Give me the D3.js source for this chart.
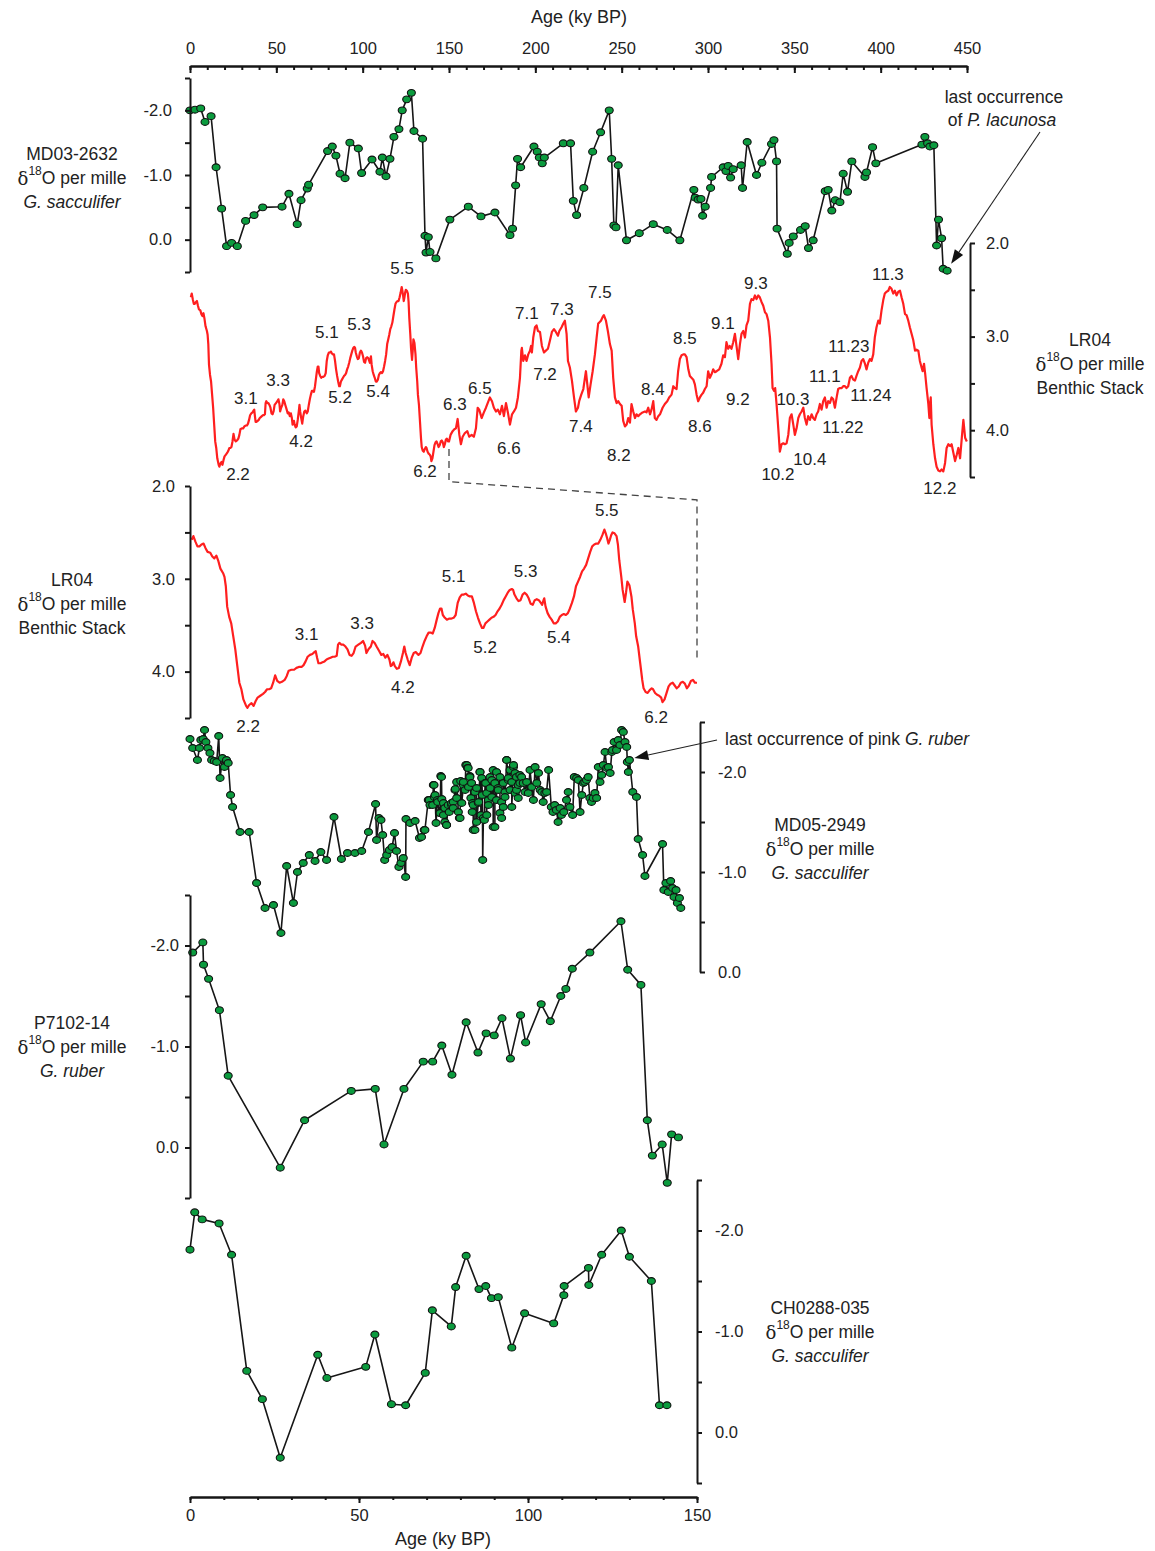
<!DOCTYPE html>
<html>
<head>
<meta charset="utf-8">
<script src="https://cdn.jsdelivr.net/npm/d3@7"></script>
<style>
  body { margin: 0; background: #fff; }
  svg { display: block; }
</style>
</head>
<body>
<script>
// ---------------------------------------------------------------
// Oxygen-isotope records vs. age (ky BP)
// ---------------------------------------------------------------

// MD03-2632, G. sacculifer δ18O  [age ky, per mille]
const md03 = [
  [0.0,-2.00],[2.9,-2.01],[6.2,-2.03],[8.7,-1.82],[12.2,-1.91],[15.1,-1.12],[18.3,-0.48],[21.2,0.10],
  [24.1,0.05],[27.4,0.10],[32.2,-0.29],[37.1,-0.38],[42.1,-0.50],[53.3,-0.51],[57.3,-0.71],[62.1,-0.24],
  [64.3,-0.61],[67.9,-0.79],[68.7,-0.85],[79.7,-1.37],[82.4,-1.44],[84.5,-1.30],[86.9,-1.02],[89.8,-0.95],
  [92.6,-1.50],[97.5,-1.41],[99.4,-1.03],[105.4,-1.24],[110.0,-1.05],[111.4,-1.27],[113.5,-0.98],[115.8,-1.25],
  [118.1,-1.59],[121.0,-1.71],[122.9,-2.00],[125.5,-2.17],[128.2,-2.27],[129.7,-1.68],[134.7,-1.56],[136.1,-0.06],
  [136.7,0.20],[138.0,-0.04],[139.0,0.19],[142.4,0.29],[150.5,-0.31],[161.2,-0.51],[168.5,-0.36],[176.6,-0.42],
  [185.3,-0.07],[186.8,-0.17],[188.6,-0.84],[189.7,-1.25],[191.5,-1.12],[199.2,-1.44],[201.1,-1.36],[202.3,-1.27],
  [204.0,-1.18],[205.2,-1.27],[216.2,-1.49],[220.4,-1.49],[222.0,-0.60],[223.9,-0.38],[228.1,-0.80],[233.2,-1.36],
  [237.8,-1.66],[242.8,-2.00],[244.2,-1.25],[245.5,-0.22],[246.7,-0.19],[248.0,-1.15],[252.8,0.01],[260.2,-0.10],
  [268.3,-0.24],[276.4,-0.15],[283.7,0.01],[291.8,-0.77],[292.6,-0.65],[294.3,-0.62],[295.9,-0.63],[296.9,-0.37],
  [298.4,-0.51],[301.5,-0.80],[302.1,-0.97],[308.8,-1.12],[310.4,-1.06],[311.7,-1.14],[313.1,-0.96],[314.6,-1.09],
  [319.2,-1.15],[320.0,-0.80],[322.7,-1.51],[328.1,-1.00],[331.2,-1.19],[336.8,-1.48],[338.2,-1.54],[339.7,-1.21],
  [340.0,-0.17],[345.9,0.22],[347.0,0.05],[349.4,-0.05],[353.6,-0.15],[356.3,-0.21],[358.2,0.13],[360.9,0.01],
  [367.9,-0.75],[369.6,-0.77],[371.7,-0.45],[373.7,-0.61],[376.4,-0.58],[378.3,-1.02],[380.8,-0.74],[383.3,-1.21],
  [390.9,-0.97],[391.8,-1.04],[395.3,-1.43],[397.2,-1.18],[423.9,-1.47],[425.6,-1.59],[427.2,-1.49],[428.5,-1.44],
  [430.8,-1.46],[432.4,0.09],[433.5,-0.31],[435.3,-0.02],[436.2,0.45],[438.5,0.48]
];

// LR04 benthic stack δ18O, 0-150 ky
const lr04Recent = [
  [0.5,2.58],[1.0,2.54],[1.6,2.60],[2.2,2.65],[2.8,2.65],[3.4,2.63],[4.0,2.62],[4.6,2.67],[5.2,2.71],[6.0,2.72],
  [6.6,2.76],[7.2,2.78],[7.8,2.75],[8.4,2.81],[9.0,2.89],[9.8,2.94],[10.2,2.98],[10.6,3.08],[11.0,3.30],[11.6,3.41],
  [12.2,3.48],[12.8,3.62],[13.4,3.76],[14.0,3.94],[14.6,4.12],[15.2,4.19],[15.8,4.30],[16.6,4.37],[17.0,4.39],[17.5,4.36],
  [18.2,4.34],[18.8,4.37],[19.4,4.32],[20.0,4.28],[20.8,4.26],[21.6,4.24],[22.2,4.22],[22.8,4.19],[23.4,4.19],[24.0,4.18],
  [24.6,4.12],[25.2,4.04],[25.8,4.10],[26.5,4.12],[27.2,4.11],[28.0,4.09],[28.6,4.05],[29.2,3.99],[30.0,3.98],[30.8,3.98],
  [31.5,3.96],[32.2,3.95],[33.0,3.95],[33.6,3.93],[34.2,3.89],[34.8,3.84],[35.5,3.82],[36.2,3.81],[36.8,3.79],[37.2,3.78],
  [37.6,3.85],[38.0,3.91],[38.6,3.91],[39.2,3.90],[39.8,3.89],[40.4,3.87],[41.0,3.86],[41.6,3.85],[42.2,3.84],[42.8,3.84],
  [43.4,3.83],[43.8,3.71],[44.2,3.69],[44.8,3.71],[45.4,3.71],[46.0,3.73],[46.6,3.76],[47.2,3.82],[47.8,3.83],[48.4,3.80],
  [49.0,3.73],[49.8,3.71],[50.6,3.69],[51.2,3.67],[51.8,3.72],[52.2,3.80],[52.8,3.76],[53.5,3.73],[54.0,3.67],[54.6,3.69],
  [55.2,3.73],[56.0,3.78],[56.6,3.82],[57.2,3.81],[57.8,3.85],[58.4,3.82],[59.0,3.87],[59.4,3.94],[59.8,3.93],[60.2,3.90],
  [60.6,3.94],[61.2,3.97],[61.8,3.96],[62.4,3.89],[63.0,3.80],[63.4,3.73],[63.8,3.80],[64.4,3.87],[65.0,3.93],[65.6,3.85],
  [66.2,3.80],[66.8,3.79],[67.6,3.82],[68.2,3.80],[68.8,3.73],[69.4,3.67],[70.0,3.62],[70.6,3.58],[71.2,3.58],[71.8,3.59],
  [72.4,3.53],[73.0,3.44],[73.5,3.37],[74.0,3.32],[74.4,3.32],[74.8,3.39],[75.4,3.42],[76.0,3.44],[76.6,3.43],[77.2,3.43],
  [78.0,3.42],[78.6,3.39],[79.2,3.26],[79.8,3.20],[80.4,3.17],[81.0,3.17],[81.6,3.16],[82.2,3.18],[82.8,3.19],[83.4,3.19],
  [84.0,3.26],[84.6,3.35],[85.2,3.42],[85.8,3.48],[86.4,3.53],[86.8,3.53],[87.4,3.48],[88.0,3.46],[88.6,3.44],[89.2,3.42],
  [89.8,3.41],[90.4,3.39],[91.0,3.35],[91.6,3.32],[92.2,3.28],[92.8,3.23],[93.4,3.19],[94.0,3.15],[94.6,3.12],[95.2,3.11],
  [95.6,3.12],[96.0,3.17],[96.6,3.21],[97.2,3.24],[97.8,3.23],[98.4,3.17],[99.0,3.15],[99.6,3.17],[100.2,3.21],[100.8,3.27],
  [101.4,3.28],[102.0,3.23],[102.6,3.22],[103.2,3.23],[103.8,3.26],[104.2,3.28],[104.6,3.23],[104.8,3.21],[105.2,3.30],[105.8,3.37],
  [106.4,3.41],[107.0,3.44],[107.6,3.48],[108.2,3.48],[108.8,3.46],[109.4,3.41],[110.0,3.39],[110.6,3.38],[111.2,3.39],[111.8,3.37],
  [112.4,3.32],[113.0,3.26],[113.6,3.19],[114.2,3.08],[114.8,3.03],[115.4,2.98],[116.0,2.92],[116.6,2.89],[117.2,2.85],[117.8,2.78],
  [118.4,2.71],[119.0,2.65],[119.6,2.63],[120.2,2.62],[120.8,2.62],[121.4,2.58],[122.0,2.53],[122.6,2.47],[123.0,2.51],[123.4,2.56],
  [123.8,2.62],[124.2,2.58],[124.6,2.53],[125.0,2.50],[125.6,2.51],[126.2,2.54],[126.6,2.63],[127.0,2.80],[127.6,2.98],[128.0,3.12],
  [128.6,3.25],[129.0,3.15],[129.4,3.03],[130.0,3.07],[130.6,3.19],[131.0,3.33],[131.6,3.48],[132.0,3.62],[132.6,3.73],[133.2,3.91],
  [133.8,4.09],[134.2,4.18],[134.8,4.22],[135.4,4.23],[136.0,4.20],[136.6,4.18],[137.0,4.19],[137.6,4.23],[138.2,4.25],[138.8,4.26],
  [139.4,4.28],[139.8,4.33],[140.4,4.30],[141.0,4.23],[141.6,4.16],[142.2,4.13],[142.8,4.12],[143.4,4.15],[144.0,4.18],[144.6,4.16],
  [145.2,4.12],[145.8,4.11],[146.4,4.13],[147.0,4.18],[147.6,4.15],[148.2,4.10],[148.8,4.09],[149.4,4.12],[150.0,4.12]
];

// LR04 benthic stack δ18O, 150-450 ky
const lr04Older = [
  [150.9,4.05],[152.1,4.01],[153.1,3.99],[154.0,3.98],[155.0,3.88],[156.0,4.05],[156.9,4.15],[157.9,4.07],[159.2,4.03],[160.6,4.01],
  [161.7,4.07],[163.1,4.05],[164.4,4.07],[165.6,3.98],[166.6,3.76],[167.5,3.78],[168.9,3.87],[170.2,3.81],[171.4,3.76],[172.4,3.71],
  [173.7,3.65],[174.9,3.69],[176.0,3.76],[177.2,3.80],[178.3,3.78],[179.5,3.83],[180.7,3.74],[181.8,3.85],[183.0,3.71],[184.1,3.81],
  [185.3,3.94],[186.5,3.83],[187.6,3.80],[188.8,3.76],[189.9,3.65],[191.1,3.44],[191.9,3.15],[192.2,3.12],[193.0,3.26],[194.0,3.20],
  [194.9,3.26],[195.9,3.19],[196.9,3.15],[197.5,3.10],[198.0,3.17],[198.8,3.01],[199.8,2.90],[200.7,2.88],[201.5,2.94],[202.7,2.95],
  [203.8,3.10],[205.0,3.17],[206.1,3.15],[207.3,3.13],[208.5,3.04],[209.6,2.95],[210.8,2.92],[211.9,2.95],[213.1,2.99],[213.9,2.94],
  [215.2,2.90],[216.2,2.86],[217.1,2.83],[218.1,2.97],[218.9,3.26],[220.0,3.33],[221.2,3.47],[222.4,3.65],[223.5,3.80],[224.7,3.76],
  [225.4,3.69],[226.6,3.62],[227.8,3.56],[228.5,3.47],[229.3,3.37],[230.1,3.51],[230.9,3.65],[232.0,3.51],[233.2,3.37],[234.5,3.19],
  [235.5,3.01],[236.4,2.86],[237.0,2.85],[238.0,2.83],[239.0,2.79],[239.7,2.77],[240.9,2.83],[242.0,2.94],[243.2,3.08],[244.2,3.15],
  [245.1,3.44],[246.1,3.65],[247.1,3.71],[248.0,3.69],[249.0,3.72],[250.0,3.74],[250.9,3.90],[251.9,3.96],[252.9,3.94],[253.8,3.87],
  [254.8,3.92],[255.7,3.72],[256.7,3.80],[257.7,3.87],[258.6,3.83],[259.6,3.85],[260.6,3.83],[262.1,3.81],[263.5,3.80],[264.4,3.81],
  [265.4,3.76],[266.4,3.83],[267.3,3.78],[268.3,3.69],[269.2,3.87],[270.2,3.89],[271.2,3.85],[272.2,3.83],[273.7,3.76],[275.0,3.72],
  [276.4,3.69],[277.5,3.65],[278.9,3.62],[279.9,3.53],[280.8,3.55],[281.8,3.56],[282.7,3.37],[283.7,3.24],[284.7,3.20],[285.7,3.19],
  [286.6,3.19],[287.6,3.22],[288.6,3.35],[289.5,3.42],[291.5,3.46],[292.4,3.51],[293.4,3.62],[294.3,3.69],[295.3,3.65],[296.3,3.62],
  [297.2,3.60],[298.2,3.56],[299.2,3.53],[300.1,3.37],[301.1,3.44],[302.1,3.40],[303.0,3.35],[304.0,3.38],[305.0,3.37],[306.5,3.35],
  [307.8,3.29],[308.8,3.20],[309.8,3.22],[310.7,3.06],[311.7,3.13],[312.6,3.10],[313.6,3.13],[314.6,3.06],[315.6,2.97],[316.5,3.10],
  [317.5,3.24],[318.5,3.08],[319.4,2.97],[320.4,2.94],[321.4,3.01],[322.3,2.88],[323.3,2.83],[324.3,2.65],[325.2,2.60],[326.2,2.61],
  [327.2,2.56],[328.1,2.60],[329.1,2.56],[330.0,2.58],[331.0,2.63],[332.0,2.67],[333.0,2.74],[333.9,2.76],[334.9,2.83],[335.9,3.01],
  [336.8,3.29],[337.4,3.55],[338.2,3.58],[338.9,3.55],[339.7,3.72],[340.7,3.98],[341.6,4.23],[342.6,4.15],[343.6,4.14],[344.5,4.15],
  [345.5,4.14],[346.5,4.05],[347.4,3.87],[348.4,3.83],[349.4,3.94],[350.3,4.05],[351.3,3.98],[352.3,3.87],[353.2,3.83],[354.2,3.80],
  [355.2,3.76],[356.1,3.87],[357.1,3.94],[358.0,3.85],[359.0,3.89],[360.0,3.83],[360.9,3.87],[361.9,3.89],[362.9,3.83],[363.8,3.80],
  [364.8,3.72],[365.8,3.78],[366.7,3.69],[367.7,3.65],[368.7,3.76],[369.6,3.69],[370.6,3.71],[371.6,3.65],[372.5,3.67],[373.5,3.76],
  [374.5,3.65],[375.4,3.56],[376.4,3.55],[377.4,3.55],[378.3,3.53],[379.3,3.53],[380.2,3.55],[381.2,3.53],[382.2,3.44],[383.1,3.42],
  [384.1,3.46],[385.1,3.47],[386.0,3.42],[387.0,3.37],[388.0,3.33],[388.9,3.26],[389.9,3.24],[390.9,3.29],[391.8,3.35],[392.8,3.28],
  [393.8,3.24],[394.7,3.26],[395.7,3.19],[396.6,3.01],[397.6,2.90],[398.6,2.83],[399.5,2.86],[400.5,2.72],[401.5,2.61],[402.4,2.54],
  [403.4,2.52],[404.4,2.51],[405.3,2.47],[406.3,2.49],[407.3,2.54],[408.2,2.51],[409.2,2.56],[410.2,2.52],[411.2,2.51],[412.1,2.58],
  [413.1,2.65],[414.1,2.76],[415.0,2.77],[416.0,2.83],[416.9,2.90],[417.9,2.97],[418.9,3.04],[419.9,3.15],[420.8,3.14],[421.8,3.15],
  [422.7,3.26],[423.7,3.33],[424.3,3.37],[425.1,3.29],[425.8,3.40],[426.6,3.55],[427.6,3.72],[428.2,3.87],[428.6,3.72],[429.0,3.65],
  [429.5,3.94],[430.5,4.15],[431.5,4.30],[432.4,4.39],[433.4,4.43],[434.4,4.44],[435.3,4.42],[436.3,4.44],[437.3,4.35],[438.2,4.19],
  [439.2,4.15],[440.2,4.17],[441.1,4.15],[442.1,4.24],[443.1,4.33],[444.1,4.26],[445.0,4.19],[446.0,4.30],[447.0,4.08],[447.9,3.89],
  [448.9,4.08],[449.9,4.12]
];

// MD05-2949, G. sacculifer δ18O
const md05 = [
  [0.0,-2.33],[0.8,-2.24],[2.2,-2.12],[2.8,-2.24],[3.2,-2.32],[3.9,-2.33],[4.3,-2.42],[4.7,-2.30],[5.3,-2.24],[5.9,-2.19],
  [6.4,-2.12],[7.2,-2.11],[7.9,-2.10],[8.5,-2.36],[8.9,-1.94],[9.6,-2.14],[10.2,-2.05],[10.8,-2.12],[11.3,-2.09],[12.0,-1.77],
  [12.6,-1.65],[14.8,-1.40],[17.5,-1.40],[19.7,-0.89],[22.2,-0.64],[24.7,-0.67],[26.9,-0.39],[28.6,-1.06],[30.6,-0.69],[31.8,-1.00],
  [33.5,-1.09],[35.3,-1.17],[37.0,-1.11],[38.7,-1.20],[40.4,-1.12],[42.6,-1.55],[44.8,-1.13],[46.6,-1.19],[48.8,-1.19],[50.8,-1.21],
  [52.8,-1.40],[54.9,-1.68],[55.2,-1.32],[55.9,-1.54],[56.5,-1.52],[57.0,-1.37],[57.6,-1.12],[58.2,-1.17],[59.0,-1.22],[59.8,-1.25],
  [60.5,-1.39],[61.1,-1.21],[61.8,-1.05],[62.4,-1.09],[63.1,-1.14],[63.8,-0.95],[63.9,-1.53],[65.1,-1.49],[66.6,-1.51],[67.9,-1.34],
  // dense interval, 68-98 ky
  [68.5,-1.35],[69.3,-1.42],[69.5,-1.42],[70.5,-1.72],[70.8,-1.72],[71.0,-1.67],[71.8,-1.67],[72.0,-1.87],[72.2,-1.87],[72.3,-1.75],
  [72.5,-1.77],[72.8,-1.49],[73.2,-1.72],[73.3,-1.70],[73.8,-1.59],[74.0,-1.59],[74.2,-1.96],[74.4,-1.95],[74.5,-1.73],[75.0,-1.57],
  [75.0,-1.69],[75.4,-1.50],[75.4,-1.64],[75.9,-1.47],[75.9,-1.47],[76.4,-1.67],[76.7,-1.60],[77.4,-1.67],[77.4,-1.69],[77.9,-1.70],
  [77.9,-1.64],[78.4,-1.82],[78.5,-1.83],[78.9,-1.74],[78.9,-1.90],[79.4,-1.60],[79.7,-1.54],[79.9,-1.54],[80.1,-1.91],[80.4,-1.69],
  [80.9,-1.87],[80.9,-1.90],[81.4,-1.82],[81.6,-2.07],[81.9,-2.07],[82.1,-2.04],[82.3,-2.04],[82.4,-1.85],[82.8,-1.96],[82.8,-1.95],
  [83.1,-1.74],[83.3,-1.89],[83.5,-1.60],[83.6,-1.69],[83.8,-1.67],[83.8,-1.42],[84.3,-1.42],[84.3,-1.80],[84.8,-1.84],[84.8,-1.50],
  [85.3,-1.69],[85.4,-1.70],[85.8,-2.00],[85.8,-2.00],[86.1,-1.57],[86.3,-1.94],[86.5,-1.77],[86.6,-1.12],[86.8,-1.54],[87.1,-1.52],
  [87.3,-1.89],[87.5,-1.89],[87.8,-1.57],[87.8,-1.79],[88.3,-1.72],[88.3,-1.67],[88.8,-1.84],[88.8,-1.95],[89.3,-1.92],[89.3,-1.75],
  [89.7,-2.02],[89.7,-1.45],[90.2,-1.45],[90.2,-1.89],[90.7,-1.72],[90.7,-2.00],[91.2,-1.84],[91.2,-1.82],[91.7,-1.95],[91.7,-1.59],
  [92.2,-1.70],[92.2,-1.54],[92.7,-1.65],[92.7,-1.89],[93.2,-1.80],[93.2,-1.75],[93.7,-2.12],[93.7,-2.12],[94.2,-1.92],[94.2,-1.94],
  [94.7,-2.02],[94.7,-1.82],[95.2,-1.90],[95.2,-1.65],[95.7,-2.05],[95.7,-2.07],[96.2,-1.79],[96.2,-1.99],[96.6,-1.95],[96.6,-1.82],
  [97.1,-1.87],[97.1,-1.74],[97.6,-1.97],[97.6,-1.89],
  // 98-125 ky
  [98.1,-1.95],[98.6,-1.89],[99.1,-1.80],[99.6,-1.90],[100.1,-1.79],[100.6,-2.02],[101.1,-1.85],[101.6,-1.72],[102.1,-2.05],[102.6,-1.89],
  [103.1,-1.99],[103.6,-1.82],[104.1,-1.80],[104.5,-1.70],[105.0,-1.79],[105.5,-1.80],[106.1,-2.02],[106.9,-1.65],[107.4,-1.60],[107.9,-1.67],
  [108.4,-1.62],[108.9,-1.50],[109.5,-1.64],[109.9,-1.57],[110.6,-1.60],[111.4,-1.72],[111.9,-1.80],[112.4,-1.65],[113.2,-1.57],[113.7,-1.95],
  [114.4,-1.94],[114.9,-1.92],[115.4,-1.60],[115.9,-1.77],[116.4,-1.89],[116.8,-1.90],[117.3,-1.92],[117.8,-1.95],[118.3,-1.74],[118.8,-1.70],
  [119.3,-1.74],[119.8,-1.79],[120.3,-1.74],[120.8,-2.05],[121.3,-1.90],[121.8,-1.97],[122.3,-2.07],[122.8,-2.20],[123.3,-2.04],[123.8,-2.05],
  [124.3,-1.99],[124.8,-2.20],
  // 125-146 ky
  [125.0,-2.22],[125.5,-2.30],[126.2,-2.22],[126.7,-2.32],[127.2,-2.27],[127.7,-2.42],[128.2,-2.40],[128.7,-2.30],[129.2,-2.25],[129.4,-2.10],
  [129.7,-2.00],[130.0,-2.12],[131.0,-1.80],[132.1,-1.75],[132.6,-1.33],[133.9,-1.17],[134.6,-0.96],[139.8,-1.28],[140.2,-0.82],[140.8,-0.89],
  [141.5,-0.80],[142.2,-0.91],[142.8,-0.84],[143.2,-0.75],[143.8,-0.82],[144.2,-0.69],[144.8,-0.74],[145.2,-0.64]
];

// P7102-14, G. ruber δ18O
const p7102 = [
  [0.8,-1.93],[3.8,-2.03],[4.0,-1.81],[5.5,-1.67],[8.7,-1.36],[11.3,-0.71],[26.7,0.20],[33.9,-0.27],[47.7,-0.56],[54.8,-0.58],
  [57.4,-0.03],[63.3,-0.58],[69.0,-0.85],[71.8,-0.85],[74.5,-1.01],[77.5,-0.72],[81.7,-1.24],[85.2,-0.94],[87.6,-1.13],[90.0,-1.11],
  [92.3,-1.28],[94.8,-0.88],[97.8,-1.31],[99.3,-1.04],[103.9,-1.42],[106.6,-1.25],[109.7,-1.50],[111.2,-1.57],[113.1,-1.77],[118.3,-1.93],
  [127.5,-2.24],[129.5,-1.76],[133.4,-1.61],[135.3,-0.27],[136.8,0.08],[139.7,-0.03],[141.2,0.35],[142.5,-0.13],[144.5,-0.10]
];

// CH0288-035, G. sacculifer δ18O
const ch0288 = [
  [0.0,-1.81],[1.4,-2.18],[3.6,-2.11],[8.6,-2.07],[12.3,-1.76],[16.8,-0.61],[21.4,-0.33],[26.7,0.25],[37.8,-0.77],[40.5,-0.54],
  [52.0,-0.65],[54.7,-0.97],[59.6,-0.28],[63.8,-0.27],[69.6,-0.59],[71.7,-1.21],[77.3,-1.05],[78.6,-1.44],[81.7,-1.75],[85.5,-1.42],
  [87.5,-1.45],[89.2,-1.33],[91.2,-1.34],[95.2,-0.84],[99.0,-1.18],[107.6,-1.08],[110.6,-1.36],[110.7,-1.45],[117.9,-1.63],[118.0,-1.46],
  [121.8,-1.76],[127.6,-2.00],[130.0,-1.74],[136.5,-1.50],[138.9,-0.27],[141.1,-0.27]
];

// Marine isotope (sub)stage labels placed at [age, δ18O]
const stagesLong = [
  ["2.2",27.8,4.47],["3.1",32.4,3.66],["3.3",51.0,3.47],["4.2",64.3,4.12],["5.1",79.3,2.96],["5.2",86.9,3.65],
  ["5.3",97.9,2.87],["5.4",108.9,3.59],["5.5",122.8,2.27],["6.2",136.1,4.44],["6.3",153.4,3.73],["6.5",167.9,3.55],
  ["6.6",184.7,4.20],["7.1",195.1,2.75],["7.2",205.6,3.40],["7.3",215.4,2.71],["7.4",226.4,3.96],["7.5",237.4,2.53],
  ["8.2",248.4,4.27],["8.4",268.1,3.57],["8.5",286.6,3.02],["8.6",295.3,3.96],["9.1",308.6,2.86],["9.2",317.3,3.67],
  ["9.3",327.7,2.43],["10.2",340.5,4.47],["10.3",349.2,3.67],["10.4",359.0,4.31],["11.1",367.7,3.43],["11.22",378.1,3.97],
  ["11.23",381.6,3.11],["11.24",394.3,3.63],["11.3",404.2,2.34],["12.2",434.3,4.62]
];
const stagesShort = [
  ["2.2",17.2,4.59],["3.1",34.5,3.60],["3.3",50.9,3.48],["4.2",63.0,4.17],["5.1",78.0,2.98],
  ["5.2",87.3,3.74],["5.3",99.3,2.92],["5.4",109.1,3.63],["5.5",123.3,2.26],["6.2",137.9,4.49]
];

// Axis ticks
const ageTicksLong = d3.range(0, 451, 50);
const ageTicksShort = d3.range(0, 151, 50);
const d18oTicks = d3.range(-2.5, 0.51, 0.5);
const d18oLabels = [-2, -1, 0];
const lrTicks = d3.range(2, 4.51, 0.5);
const lrLabels = [2, 3, 4];

// ---------------------------------------------------------------
const FONT = '"Liberation Sans", Arial, Helvetica, sans-serif';
const INK = "#161616";
const GREEN = "#0b9b3e";
const RED = "#ff1f1f";

const svg = d3.select("body").append("svg")
  .attr("width", 1155).attr("height", 1551)
  .attr("font-family", FONT);

const xLong  = d3.scaleLinear().domain([0, 450]).range([190, 967]);
const xShort = d3.scaleLinear().domain([0, 150]).range([190, 697]);
const yMD03  = d3.scaleLinear().domain([-2.5, 0.5]).range([78, 272]);
const yLRtop = d3.scaleLinear().domain([2, 4.5]).range([243, 477]);
const yLRmid = d3.scaleLinear().domain([2, 4.5]).range([486, 718]);
const yMD05  = d3.scaleLinear().domain([-2.5, 0]).range([722, 972]);
const yP71   = d3.scaleLinear().domain([-2.5, 0.5]).range([895, 1198]);
const yCH    = d3.scaleLinear().domain([-2.5, 0.5]).range([1180, 1483]);

const lr04 = lr04Recent.concat(lr04Older);

function styleAxis(g, size) {
  g.attr("font-family", FONT).attr("font-size", size || 16.5);
  g.select(".domain").attr("stroke", INK).attr("stroke-width", 2);
  g.selectAll(".tick line").attr("stroke", INK).attr("stroke-width", 2);
  g.selectAll(".tick text").attr("fill", "#222");
}

function yAxis(scale, x, side, ticks, labels, pad) {
  const ax = (side === "left" ? d3.axisLeft(scale) : d3.axisRight(scale))
    .tickValues(ticks).tickSizeInner(5).tickSizeOuter(0).tickPadding(pad)
    .tickFormat(v => labels.some(l => Math.abs(l - v) < 1e-9) ? v.toFixed(1) : "");
  const g = svg.append("g").attr("transform", `translate(${x},0)`).call(ax);
  styleAxis(g);
}

function series(data, x, y, color, width) {
  svg.append("path").datum(data)
    .attr("fill", "none").attr("stroke", color).attr("stroke-width", width)
    .attr("stroke-linejoin", "round")
    .attr("d", d3.line().x(d => x(d[0])).y(d => y(d[1])));
}

function markers(data, x, y) {
  svg.append("g").selectAll("ellipse").data(data).join("ellipse")
    .attr("cx", d => x(d[0])).attr("cy", d => y(d[1]))
    .attr("rx", 4).attr("ry", 3.4)
    .attr("fill", GREEN).attr("stroke", "#111").attr("stroke-width", 1.1);
}

function stageLabels(list, x, y) {
  svg.append("g").selectAll("text").data(list).join("text")
    .attr("x", d => x(d[1])).attr("y", d => y(d[2]))
    .attr("text-anchor", "middle").attr("dominant-baseline", "central")
    .attr("font-size", 17).attr("fill", "#222")
    .text(d => d[0]);
}

// Three-line record caption: name / δ18O per mille / species or stack
function caption(cx, cy, name, third, thirdItalic) {
  const g = svg.append("g").attr("font-size", 17.5).attr("fill", "#222").attr("text-anchor", "middle");
  g.append("text").attr("x", cx).attr("y", cy - 24).attr("dominant-baseline", "central").text(name);
  const t = g.append("text").attr("x", cx).attr("y", cy).attr("dominant-baseline", "central");
  t.append("tspan").attr("font-family", '"DejaVu Serif", "Liberation Serif", serif').attr("font-size", 18).text("δ");
  t.append("tspan").attr("font-size", 12).attr("dy", -7).text("18");
  t.append("tspan").attr("dy", 7).text("O per mille");
  g.append("text").attr("x", cx).attr("y", cy + 24).attr("dominant-baseline", "central")
    .attr("font-style", thirdItalic ? "italic" : null).text(third);
}

function arrow(x1, y1, x2, y2) {
  const a = Math.atan2(y2 - y1, x2 - x1), L = 14, Wd = 5;
  const bx = x2 - L * Math.cos(a), by = y2 - L * Math.sin(a);
  svg.append("line").attr("x1", x1).attr("y1", y1).attr("x2", bx).attr("y2", by)
    .attr("stroke", "#222").attr("stroke-width", 1.1);
  svg.append("path")
    .attr("d", `M${x2},${y2}L${bx + Wd * Math.sin(a)},${by - Wd * Math.cos(a)}L${bx - Wd * Math.sin(a)},${by + Wd * Math.cos(a)}Z`)
    .attr("fill", "#111");
}

// ---- Top age axis (0-450 ky) ----
const topMinor = d3.axisTop(xLong).tickValues(d3.range(0, 451, 10))
  .tickSizeInner(-4).tickSizeOuter(0).tickFormat("");
const gTopMinor = svg.append("g").attr("transform", "translate(0,66)").call(topMinor);
styleAxis(gTopMinor);
const topMajor = d3.axisTop(xLong).tickValues(ageTicksLong)
  .tickSizeInner(-7).tickSizeOuter(0).tickPadding(12).tickFormat(d3.format("d"));
const gTop = svg.append("g").attr("transform", "translate(0,66)").call(topMajor);
styleAxis(gTop);
svg.append("text").attr("x", 579).attr("y", 17).attr("text-anchor", "middle")
  .attr("dominant-baseline", "central").attr("font-size", 18).attr("fill", "#222").text("Age (ky BP)");

// ---- Bottom age axis (0-150 ky) ----
const botMinor = d3.axisBottom(xShort).tickValues(d3.range(0, 151, 10))
  .tickSizeInner(3).tickSizeOuter(0).tickFormat("");
const gBotMinor = svg.append("g").attr("transform", "translate(0,1497)").call(botMinor);
styleAxis(gBotMinor);
const botMajor = d3.axisBottom(xShort).tickValues(ageTicksShort)
  .tickSizeInner(6).tickSizeOuter(0).tickPadding(6).tickFormat(d3.format("d"));
const gBot = svg.append("g").attr("transform", "translate(0,1497)").call(botMajor);
styleAxis(gBot);
svg.append("text").attr("x", 443).attr("y", 1539).attr("text-anchor", "middle")
  .attr("dominant-baseline", "central").attr("font-size", 18).attr("fill", "#222").text("Age (ky BP)");

// ---- Dashed link from 150 ky on the long LR04 record to the expanded view ----
svg.append("path")
  .attr("d", d3.line()([
    [xLong(150), yLRtop(4.2)], [xLong(150), yLRtop(4.55)],
    [xShort(150), yLRmid(2.15)], [xShort(150), yLRmid(3.9)]
  ]))
  .attr("fill", "none").attr("stroke", "#444").attr("stroke-width", 1.3).attr("stroke-dasharray", "7,5");

// ---- LR04 curves ----
series(lr04, xLong, yLRtop, RED, 2.2);
series(lr04Recent, xShort, yLRmid, RED, 2.2);

// ---- Planktonic records ----
series(md03, xLong, yMD03, INK, 1.6);
markers(md03, xLong, yMD03);
series(md05, xShort, yMD05, INK, 1.6);
markers(md05, xShort, yMD05);
series(p7102, xShort, yP71, INK, 1.6);
markers(p7102, xShort, yP71);
series(ch0288, xShort, yCH, INK, 1.6);
markers(ch0288, xShort, yCH);

// ---- Stage labels ----
stageLabels(stagesLong, xLong, yLRtop);
stageLabels(stagesShort, xShort, yLRmid);

// ---- Value axes ----
yAxis(yMD03, 190, "left", d18oTicks, d18oLabels, 13);
yAxis(yLRtop, 970, "right", lrTicks, lrLabels, 11);
yAxis(yLRmid, 190, "left", lrTicks, lrLabels, 10);
yAxis(yMD05, 700, "right", d3.range(-2.5, 0.01, 0.5), d18oLabels, 13);
yAxis(yP71, 190, "left", d18oTicks, d18oLabels, 6);
yAxis(yCH, 697, "right", d18oTicks, d18oLabels, 13);

// ---- Captions ----
caption(72, 178, "MD03-2632", "G. sacculifer", true);
caption(1090, 364, "LR04", "Benthic Stack", false);
caption(72, 604, "LR04", "Benthic Stack", false);
caption(820, 849, "MD05-2949", "G. sacculifer", true);
caption(72, 1047, "P7102-14", "G. ruber", true);
caption(820, 1332, "CH0288-035", "G. sacculifer", true);

// ---- Annotations ----
const note1 = svg.append("g").attr("font-size", 17.5).attr("fill", "#222").attr("text-anchor", "middle");
note1.append("text").attr("x", 1004).attr("y", 97).attr("dominant-baseline", "central").text("last occurrence");
const n1b = note1.append("text").attr("x", 1002).attr("y", 120).attr("dominant-baseline", "central");
n1b.append("tspan").text("of ");
n1b.append("tspan").attr("font-style", "italic").text("P. lacunosa");
const lastMD03 = md03[md03.length - 1];
arrow(1040, 132, xLong(lastMD03[0]) + 4, yMD03(lastMD03[1]) - 7);

const note2 = svg.append("text").attr("x", 725).attr("y", 739).attr("dominant-baseline", "central")
  .attr("font-size", 17.5).attr("fill", "#222");
note2.append("tspan").text("last occurrence of pink ");
note2.append("tspan").attr("font-style", "italic").text("G. ruber");
const pinkTop = md05.find(d => d[0] === 130.0);
arrow(717, 740, xShort(pinkTop[0]) + 5, yMD05(pinkTop[1]) - 2);
</script>
</body>
</html>
